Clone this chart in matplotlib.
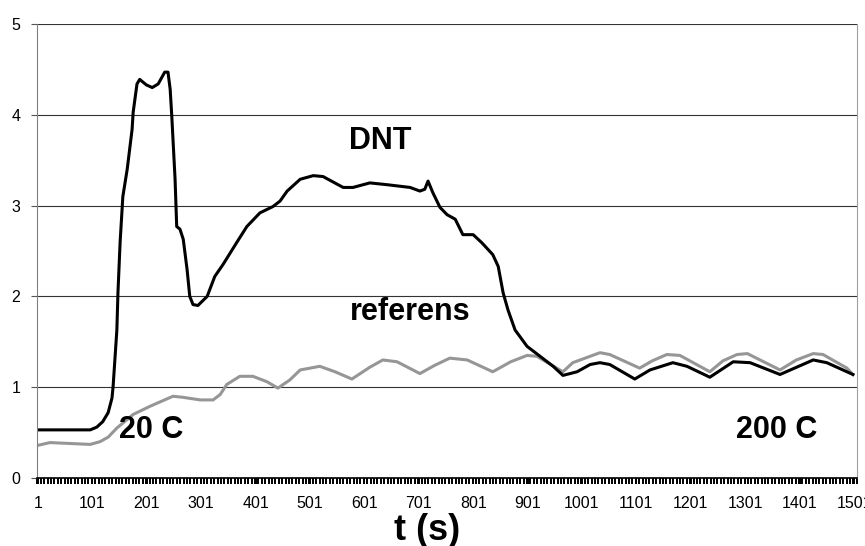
import numpy as np
import matplotlib
matplotlib.use("Agg")
import matplotlib.pyplot as plt
from matplotlib.ticker import MultipleLocator, FixedLocator

# DNT signal (black) - sample index / value
dnt_t = [1, 97, 109, 120, 130, 137, 139, 146, 148, 152, 157, 165, 174, 176, 183, 188,
         200, 211, 222, 234, 240, 244, 247, 253, 256, 262, 268, 275, 280, 286, 295, 312,
         326, 341, 367, 385, 409, 433, 446, 459, 483, 507, 525, 562, 580, 611, 643, 685,
         703, 712, 718, 727, 740, 753, 768, 782, 801, 817, 837, 847, 856, 865, 878, 900,
         924, 948, 966, 992, 1016, 1034, 1052, 1098, 1126, 1168, 1194, 1236, 1279, 1310,
         1365, 1426, 1451, 1499]
dnt_v = [0.53, 0.53, 0.56, 0.62, 0.72, 0.88, 1.0, 1.63, 2.04, 2.6, 3.1, 3.4, 3.84, 4.03, 4.34, 4.39,
         4.33, 4.30, 4.34, 4.47, 4.47, 4.28, 3.98, 3.29, 2.77, 2.74, 2.63, 2.30, 2.0, 1.91, 1.90, 2.0,
         2.22, 2.35, 2.6, 2.77, 2.92, 2.99, 3.05, 3.16, 3.29, 3.33, 3.32, 3.2, 3.2, 3.25, 3.23, 3.2,
         3.16, 3.18, 3.27, 3.14, 2.98, 2.9, 2.85, 2.68, 2.68, 2.59, 2.46, 2.33, 2.04, 1.85, 1.63, 1.45,
         1.34, 1.23, 1.13, 1.17, 1.25, 1.27, 1.25, 1.09, 1.19, 1.27, 1.23, 1.11, 1.28, 1.27,
         1.14, 1.30, 1.27, 1.14]

# referens signal (grey)
ref_t = [1, 23, 60, 97, 115, 130, 146, 176, 207, 249, 266, 299, 323, 336, 348, 372, 396,
         422, 442, 464, 483, 519, 547, 578, 611, 635, 661, 703, 730, 758, 790, 837, 870,
         900, 918, 966, 984, 1034, 1052, 1107, 1130, 1157, 1181, 1236, 1260, 1286, 1305,
         1365, 1395, 1426, 1444, 1488, 1499]
ref_v = [0.36, 0.39, 0.38, 0.37, 0.40, 0.45, 0.55, 0.70, 0.79, 0.90, 0.89, 0.86, 0.86, 0.92,
         1.03, 1.12, 1.12, 1.06, 0.99, 1.08, 1.19, 1.23, 1.17, 1.09, 1.22, 1.30, 1.28, 1.15,
         1.24, 1.32, 1.30, 1.17, 1.28, 1.35, 1.34, 1.17, 1.27, 1.38, 1.36, 1.21, 1.29, 1.36,
         1.35, 1.17, 1.29, 1.36, 1.37, 1.19, 1.30, 1.37, 1.36, 1.21, 1.14]

x_labels = [1 + 100 * i for i in range(16)]
y_ticks = [0, 1, 2, 3, 4, 5]

plt.rcParams['font.family'] = ['Liberation Sans', 'DejaVu Sans']

fig = plt.figure(figsize=(8.65, 5.46), dpi=100)
ax = fig.add_axes([37 / 865, 68 / 546, 820 / 865, 454 / 546])

ax.plot(ref_t, ref_v, color='#969696', lw=2.2, solid_joinstyle='round')
ax.plot(dnt_t, dnt_v, color='black', lw=2.2, solid_joinstyle='round')

ax.set_xlim(-0.8, 1506.5)
ax.set_ylim(0, 5)

ax.set_yticks(y_ticks)
ax.yaxis.grid(True, color='#333333', lw=0.8)
ax.set_axisbelow(True)
ax.tick_params(axis='y', length=4, width=0.8, color='#555555', pad=8, labelsize=11.5)

ax.xaxis.set_major_locator(FixedLocator(x_labels))
ax.set_xticklabels([str(v) for v in x_labels])
ax.xaxis.set_minor_locator(MultipleLocator(6.25))
ax.tick_params(axis='x', which='both', length=4, width=1.4, color='black',
               direction='out', pad=9, labelsize=11.5)

for side in ['top']:
    ax.spines[side].set_visible(False)
ax.spines['left'].set_color('#808080')
ax.spines['right'].set_color('#a0a0a0')
ax.spines['bottom'].set_color('black')
ax.spines['bottom'].set_linewidth(1.2)

lbl = dict(fontsize=22, fontweight='bold', ha='center', va='center')
ax.text(630, 3.71, 'DNT', **lbl)
ax.text(685, 1.83, 'referens', **lbl)
ax.text(209, 0.53, '20 C', **lbl)
ax.text(1358, 0.53, '200 C', **lbl)

fig.text(427 / 865, 1 - 530 / 546, 't (s)', fontsize=26, fontweight='bold',
         ha='center', va='center')

fig.savefig('out.png', dpi=100)
